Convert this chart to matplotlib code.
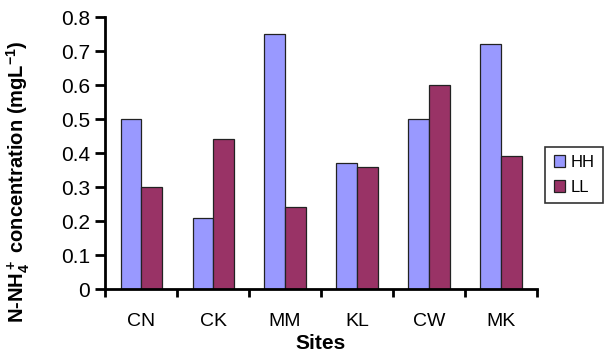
import numpy as np
import matplotlib.pyplot as plt

sites = ["CN", "CK", "MM", "KL", "CW", "MK"]
hh = [0.50, 0.21, 0.75, 0.37, 0.50, 0.72]
ll = [0.30, 0.44, 0.24, 0.36, 0.60, 0.39]

plt.rcParams['font.family'] = ['Liberation Sans', 'DejaVu Sans']
plt.rcParams['mathtext.fontset'] = 'custom'
plt.rcParams['mathtext.rm'] = 'Liberation Sans:bold'
plt.rcParams['mathtext.bf'] = 'Liberation Sans:bold'
plt.rcParams['mathtext.default'] = 'bf'

fig = plt.figure(figsize=(6.05, 3.56), dpi=100)
ax = fig.add_axes([0.1736, 0.188, 0.714, 0.764])

x = np.arange(len(sites))
w = 0.285
ax.bar(x - w / 2, hh, w, color="#9999FF", edgecolor="#222222", linewidth=0.9, label="HH")
ax.bar(x + w / 2, ll, w, color="#993366", edgecolor="#222222", linewidth=0.9, label="LL")

ax.set_xlim(-0.5, len(sites) - 0.5)
ax.set_ylim(0, 0.8)
ax.set_yticks(np.arange(0, 0.81, 0.1))
ax.set_yticklabels(["0"] + [f"{v:.1f}" for v in np.arange(0.1, 0.81, 0.1)])
ax.set_xticks(x)
ax.set_xticklabels(sites)
ax.set_xticks(np.arange(-0.5, len(sites), 1), minor=True)
ax.tick_params(axis="x", which="major", length=0, pad=17, labelsize=14)
ax.tick_params(axis="x", which="minor", length=6, width=2, direction="out")
ax.tick_params(axis="y", length=7, width=2, labelsize=15, pad=4)

for s in ["top", "right"]:
    ax.spines[s].set_visible(False)
for s in ["left", "bottom"]:
    ax.spines[s].set_linewidth(2)

ax.set_xlabel("Sites", fontsize=15, fontweight="bold", labelpad=3)
ax.set_ylabel("N-NH$_4^+$ concentration (mgL$^{-1}$)", fontsize=14.5, fontweight="bold")
ax.yaxis.set_label_coords(-0.17, 0.395)

leg = ax.legend(loc="center left", bbox_to_anchor=(1.0, 0.42), fontsize=12,
                frameon=True, fancybox=False, edgecolor="black",
                handlelength=0.7, handleheight=0.7, handletextpad=0.3,
                borderpad=0.5, labelspacing=0.6)
leg.get_frame().set_linewidth(1.2)

fig.savefig("out.png", dpi=100)
